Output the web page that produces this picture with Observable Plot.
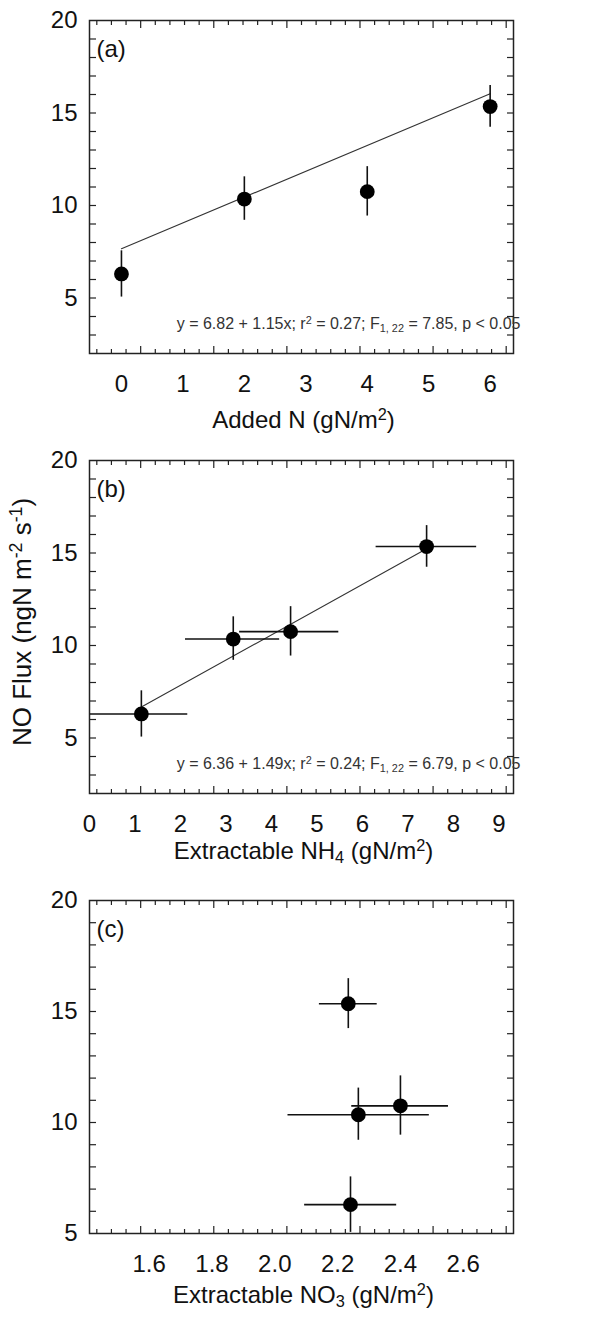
<!DOCTYPE html>
<html>
<head>
<meta charset="utf-8">
<script src="https://cdn.jsdelivr.net/npm/d3@7"></script>
<script src="https://cdn.jsdelivr.net/npm/@observablehq/plot@0.6"></script>
<style>
  html, body { margin: 0; padding: 0; background: #fff; }
  #chart { width: 616px; }
  #chart svg { display: block; overflow: visible; }
</style>
</head>
<body>
<div id="chart"></div>
<script>
// ---- data ----
const treatment = ["0", "2", "4", "6"];
const addedN = [0, 2, 4, 6];
const flux   = [6.3, 10.35, 10.75, 15.35];
const fluxLo = [5.05, 9.2, 9.43, 14.23];
const fluxHi = [7.55, 11.55, 12.1, 16.48];

const nh4   = [1.14, 3.16, 4.42, 7.41];
const nh4Lo = [0.02, 2.11, 3.30, 6.30];
const nh4Hi = [2.16, 4.18, 5.48, 8.51];

const no3   = [2.241, 2.266, 2.40, 2.234];
const no3Lo = [2.095, 2.042, 2.245, 2.142];
const no3Hi = [2.388, 2.492, 2.553, 2.326];

// fitted lines as drawn (end points)
const fitAx = [0, 6],       fitAy = [7.66, 16.04];
const fitBx = [1.14, 7.41], fitBy = [6.67, 15.23];

// text
const panelLabels = ["(a)", "(b)", "(c)"];
const eqA = "y = 6.82 + 1.15x; r^{2} = 0.27; F_{1, 22} = 7.85, p < 0.05";
const eqB = "y = 6.36 + 1.49x; r^{2} = 0.24; F_{1, 22} = 6.79, p < 0.05";
const xLabelA = "Added N (gN/m^{2})";
const xLabelB = "Extractable NH_{4} (gN/m^{2})";
const xLabelC = "Extractable NO_{3} (gN/m^{2})";
const yLabel = "NO Flux (ngN m^{-2} s^{-1})";

// tick labels
const xTicksA = [0, 1, 2, 3, 4, 5, 6];
const xTicksB = [0, 1, 2, 3, 4, 5, 6, 7, 8, 9];
const xTicksC = [1.6, 1.8, 2.0, 2.2, 2.4, 2.6];
const yTicks  = [5, 10, 15, 20];

const font = "'Liberation Sans', Arial, sans-serif";
const W = 616, H = 440;
const M = {top: 20, bottom: 87, left: 89, right: 103};

function rows(xs, ys, lo, hi, xlo, xhi) {
  return xs.map((x, i) => ({x, y: ys[i], ylo: lo[i], yhi: hi[i],
    xlo: xlo ? xlo[i] : null, xhi: xhi ? xhi[i] : null}));
}

// decorative frame ticks, evenly spaced across the frame
function frameTicks([lo, hi], n = 29) {
  const all = d3.range(n).map(k => lo + (k + 0.5) * (hi - lo) / n);
  return {minor: all.filter((d, k) => k % 5 !== 3), major: all.filter((d, k) => k % 5 === 3)};
}

function panel({xDomain, yDomain, xTicks, xFormat, data, fit, hbars, eq, label, xLabel, xLabelDy, yLab}) {
  const ft = frameTicks(xDomain);
  const yMinor = d3.range(Math.ceil(yDomain[0] + 0.001), yDomain[1]);
  const blank = () => "";
  const tk = {tickFormat: blank, label: null, stroke: "#222", strokeWidth: 1.2};
  const marks = [
    // inward ticks (drawn outward, then shifted back inside the frame)
    Plot.axisX(ft.minor, {...tk, anchor: "bottom", tickSize: 4, dy: -4}),
    Plot.axisX(ft.major, {...tk, anchor: "bottom", tickSize: 7, dy: -7}),
    Plot.axisX(ft.minor, {...tk, anchor: "top", tickSize: 4, dy: 4}),
    Plot.axisX(ft.major, {...tk, anchor: "top", tickSize: 7, dy: 7}),
    Plot.axisY(yMinor, {...tk, anchor: "left", tickSize: 7, dx: 7}),
    Plot.axisY(yMinor, {...tk, anchor: "right", tickSize: 7, dx: -7}),
    Plot.frame({stroke: "#222", strokeWidth: 1.5}),
    // tick labels
    Plot.axisX(xTicks, {anchor: "bottom", tickSize: 0, tickPadding: 21, tickFormat: xFormat, label: null, fontSize: 24, fill: "#111"}),
    Plot.axisY(yTicks, {anchor: "left", tickSize: 0, tickPadding: 12, label: null, fontSize: 24, fill: "#111"}),
  ];
  if (fit) marks.push(Plot.line(fit, {x: "x", y: "y", stroke: "#333", strokeWidth: 1.1}));
  if (hbars) marks.push(Plot.ruleY(data, {y: "y", x1: "xlo", x2: "xhi", stroke: "#111", strokeWidth: 1.6}));
  marks.push(
    Plot.ruleX(data, {x: "x", y1: "ylo", y2: "yhi", stroke: "#111", strokeWidth: 1.6}),
    Plot.dot(data, {x: "x", y: "y", r: 7.4, fill: "#000", stroke: "none"}),
    Plot.text([label], {frameAnchor: "top-left", dx: 7, dy: 19, lineAnchor: "top", textAnchor: "start", fontSize: 24, fill: "#111"}),
    Plot.text([xLabel], {frameAnchor: "bottom", dx: 2, dy: xLabelDy, lineAnchor: "top", textAnchor: "middle", fontSize: 24, fill: "#111"})
  );
  if (eq) marks.push(Plot.text([eq], {frameAnchor: "bottom-right", dx: 7, dy: -25, lineAnchor: "bottom", textAnchor: "end", fontSize: 16, fill: "#333"}));
  if (yLab) marks.push(Plot.text([yLab], {frameAnchor: "left", dx: -67, dy: -5, rotate: -90, textAnchor: "middle", lineAnchor: "middle", fontSize: 26, fill: "#111", style: "letter-spacing:1.8px"}));
  return Plot.plot({
    width: W, height: H,
    marginTop: M.top, marginBottom: M.bottom, marginLeft: M.left, marginRight: M.right,
    style: {fontFamily: font, background: "#fff", color: "#111"},
    x: {domain: xDomain, axis: null},
    y: {domain: yDomain, axis: null},
    marks
  });
}

// turn ^{..} and _{..} into real super/subscript tspans
function richify(svg) {
  const NS = "http://www.w3.org/2000/svg";
  svg.querySelectorAll("text").forEach(t => {
    const leaves = t.querySelector("tspan") ? [...t.querySelectorAll("tspan")] : [t];
    leaves.forEach(el => {
      const s = el.textContent;
      if (!/[\^_]\{/.test(s)) return;
      el.textContent = "";
      const re = /([\^_])\{([^}]*)\}/g;
      let last = 0, m;
      const add = (str, kind) => {
        const ts = document.createElementNS(NS, "tspan");
        ts.textContent = str;
        if (kind) {
          ts.setAttribute("font-size", "0.68em");
          ts.setAttribute("baseline-shift", kind === "^" ? "48%" : "-25%");
        }
        el.appendChild(ts);
      };
      while ((m = re.exec(s))) {
        if (m.index > last) add(s.slice(last, m.index), null);
        add(m[2], m[1]);
        last = re.lastIndex;
      }
      if (last < s.length) add(s.slice(last), null);
    });
  });
}

const chart = document.getElementById("chart");
const fmt1 = d3.format(".1f");

const pA = panel({
  xDomain: [-0.52, 6.38], yDomain: [2, 20], xTicks: xTicksA, xFormat: d3.format("d"),
  data: rows(addedN, flux, fluxLo, fluxHi),
  fit: fitAx.map((x, i) => ({x, y: fitAy[i]})),
  hbars: false, eq: eqA, label: panelLabels[0], xLabel: xLabelA, xLabelDy: 57
});
const pB = panel({
  xDomain: [0, 9.32], yDomain: [2, 20], xTicks: xTicksB, xFormat: d3.format("d"),
  data: rows(nh4, flux, fluxLo, fluxHi, nh4Lo, nh4Hi),
  fit: fitBx.map((x, i) => ({x, y: fitBy[i]})),
  hbars: true, eq: eqB, label: panelLabels[1], xLabel: xLabelB, xLabelDy: 48, yLab: yLabel
});
const pC = panel({
  xDomain: [1.41, 2.76], yDomain: [5, 20], xTicks: xTicksC, xFormat: fmt1,
  data: rows(no3, flux, fluxLo, fluxHi, no3Lo, no3Hi),
  fit: null, hbars: true, eq: null, label: panelLabels[2], xLabel: xLabelC, xLabelDy: 52
});
for (const p of [pA, pB, pC]) { richify(p); chart.appendChild(p); }
</script>
</body>
</html>
